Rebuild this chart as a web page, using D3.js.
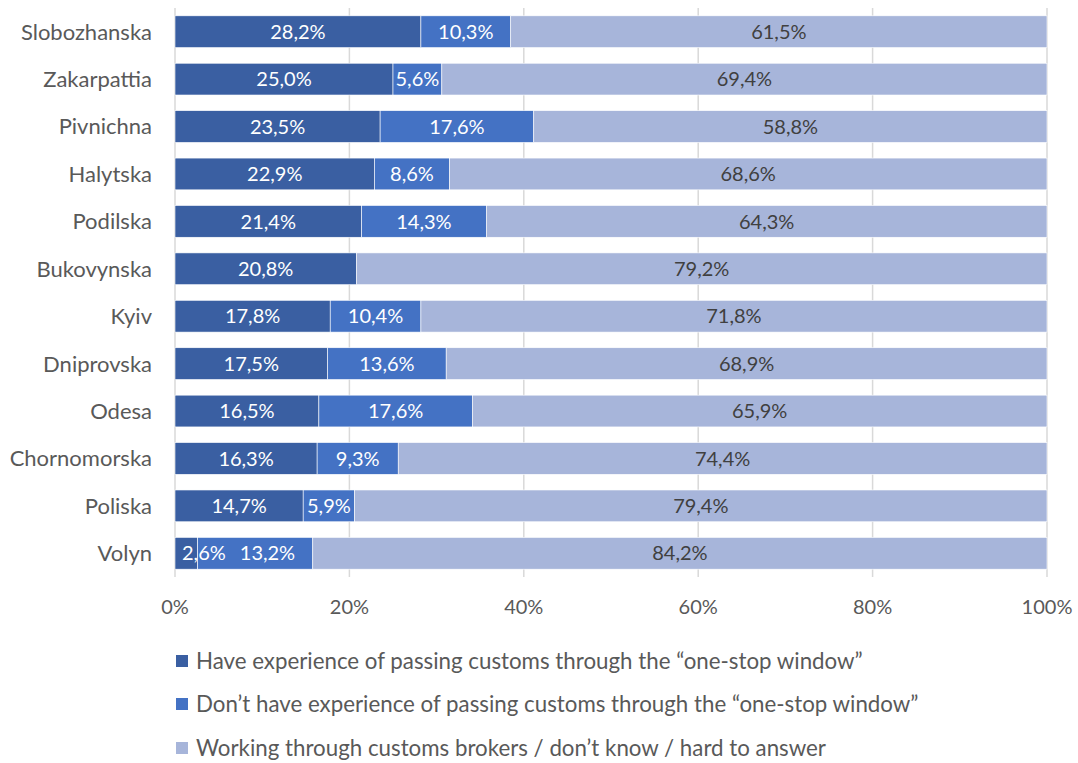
<!DOCTYPE html>
<html>
<head>
<meta charset="utf-8">
<script src="https://cdn.jsdelivr.net/npm/d3@7"></script>
<style>
  html, body { margin: 0; padding: 0; background: #fff; }
  svg text { font-family: Lato, "Open Sans", sans-serif; }
</style>
</head>
<body>
<svg id="chart" width="1078" height="763"></svg>
<script>
// Customs regions, top to bottom
const regions = ["Slobozhanska", "Zakarpattia", "Pivnichna", "Halytska", "Podilska", "Bukovynska",
  "Kyiv", "Dniprovska", "Odesa", "Chornomorska", "Poliska", "Volyn"];

// Share of respondents (%) per answer
const haveExperience = [28.2, 25.0, 23.5, 22.9, 21.4, 20.8, 17.8, 17.5, 16.5, 16.3, 14.7, 2.6];
const noExperience   = [10.3, 5.6, 17.6, 8.6, 14.3, 0, 10.4, 13.6, 17.6, 9.3, 5.9, 13.2];
const brokersOther   = [61.5, 69.4, 58.8, 68.6, 64.3, 79.2, 71.8, 68.9, 65.9, 74.4, 79.4, 84.2];

const seriesNames = [
  "Have experience of passing customs through the \u201cone-stop window\u201d",
  "Don\u2019t have experience of passing customs through the \u201cone-stop window\u201d",
  "Working through customs brokers / don\u2019t know / hard to answer"
];
const tickValues = [0, 0.2, 0.4, 0.6, 0.8, 1.0];

const colors = ["#3a5fa2", "#4472c4", "#a7b5da"];
const labelColors = ["#ffffff", "#ffffff", "#404040"];

const svg = d3.select("#chart");
const plotLeft = 175, plotRight = 1047, plotTop = 8, plotBottom = 577;

const x = d3.scaleLinear().domain([0, 1]).range([plotLeft, plotRight]);
const y = d3.scaleBand().domain(regions).range([plotTop, plotBottom]).paddingInner(0.33).paddingOuter(0.165);

// Gridlines
svg.append("g")
  .selectAll("line")
  .data(tickValues)
  .join("line")
  .attr("x1", d => x(d)).attr("x2", d => x(d))
  .attr("y1", plotTop).attr("y2", plotBottom)
  .attr("stroke", "#d9d9d9").attr("stroke-width", 1.5);

// Stack as 100% shares
const rows = regions.map((r, i) => {
  const vals = [haveExperience[i], noExperience[i], brokersOther[i]];
  const total = d3.sum(vals);
  return { region: r, vals, shares: vals.map(v => v / total) };
});

const stack = d3.stack()
  .keys([0, 1, 2])
  .value((d, k) => d.shares[k]);
const stacked = stack(rows);

const gBars = svg.append("g");
stacked.forEach((layer, k) => {
  gBars.append("g")
    .selectAll("rect")
    .data(layer)
    .join("rect")
    .attr("x", d => x(d[0]))
    .attr("y", d => y(d.data.region))
    .attr("width", d => Math.max(0, x(d[1]) - x(d[0])))
    .attr("height", y.bandwidth())
    .attr("fill", colors[k])
    .attr("stroke", "#ffffff")
    .attr("stroke-width", d => (d[1] - d[0]) > 0 ? 0.6 : 0);
});

// Value labels, centered in segments, nudged to avoid overlaps
const fmt = v => v.toFixed(1).replace(".", ",") + "%";
const gLabels = svg.append("g");
rows.forEach((row, i) => {
  let prevRight = plotLeft;
  stacked.forEach((layer, k) => {
    const d = layer[i];
    if (row.vals[k] <= 0) return;
    const t = gLabels.append("text")
      .attr("y", y(row.region) + y.bandwidth() / 2)
      .attr("dy", "0.36em")
      .attr("text-anchor", "middle")
      .attr("fill", labelColors[k])
      .style("font-size", "20px")
      .text(fmt(row.vals[k]));
    const w = t.node().getComputedTextLength();
    let cx = (x(d[0]) + x(d[1])) / 2;
    const minLeft = (prevRight === plotLeft ? plotLeft + 7 : prevRight + 14);
    if (cx - w / 2 < minLeft) cx = minLeft + w / 2;
    t.attr("x", cx);
    prevRight = cx + w / 2;
  });
});

// Category labels
svg.append("g")
  .selectAll("text")
  .data(regions)
  .join("text")
  .attr("x", 152)
  .attr("y", d => y(d) + y.bandwidth() / 2)
  .attr("dy", "0.36em")
  .attr("text-anchor", "end")
  .attr("fill", "#595959")
  .style("font-size", "22px")
  .text(d => d);

// Axis tick labels
svg.append("g")
  .selectAll("text")
  .data(tickValues)
  .join("text")
  .attr("x", d => x(d))
  .attr("y", 607)
  .attr("dy", "0.36em")
  .attr("text-anchor", "middle")
  .attr("fill", "#595959")
  .style("font-size", "20px")
  .text(d => d3.format(".0%")(d));

// Legend
const legendY = [661, 704, 748];
const legend = svg.append("g")
  .selectAll("g")
  .data(seriesNames)
  .join("g")
  .attr("transform", (d, i) => `translate(176,${legendY[i]})`);
legend.append("rect")
  .attr("x", 0).attr("y", -6).attr("width", 12).attr("height", 12)
  .attr("fill", (d, i) => colors[i]);
legend.append("text")
  .attr("x", 20).attr("dy", "0.36em")
  .attr("fill", "#595959")
  .style("font-size", "22.3px")
  .text(d => d);
</script>
</body>
</html>
